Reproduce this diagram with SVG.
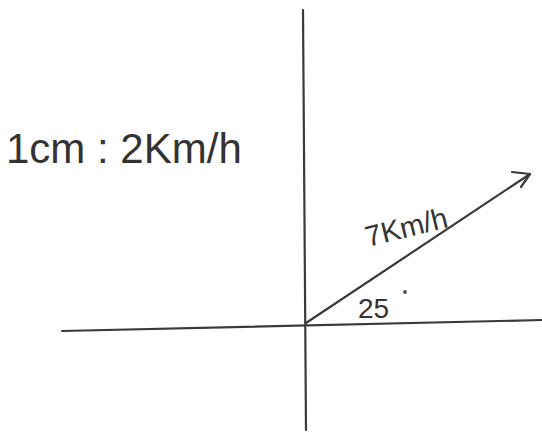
<svg xmlns="http://www.w3.org/2000/svg" width="542" height="432" viewBox="0 0 542 432">
<style>
.ln{stroke:#3a3a3a;stroke-width:2.2;fill:none;stroke-linecap:round;stroke-linejoin:round}
.tx{font-family:"Liberation Sans","DejaVu Sans",sans-serif;fill:#333}
</style>
<rect width="542" height="432" fill="#fff"/>
<g id="connectors">
<path class="ln" d="M303 10 L306 430"/>
<path class="ln" d="M62 331 L542 320"/>
<path class="ln" d="M306 323 L530 174"/>
<path class="ln" d="M512 172 L530 174 L521 187"/>
</g>
<g id="scale">
<text class="tx" x="6" y="163" font-size="42">1cm : 2Km/h</text>
</g>
<g id="speed">
<text class="tx" x="368" y="247" font-size="29" transform="rotate(-14 368 247)">7Km/h</text>
</g>
<g id="angle">
<text class="tx" x="358" y="318" font-size="28">25</text>
<circle cx="405" cy="292" r="2" fill="#555"/>
</g>
</svg>
